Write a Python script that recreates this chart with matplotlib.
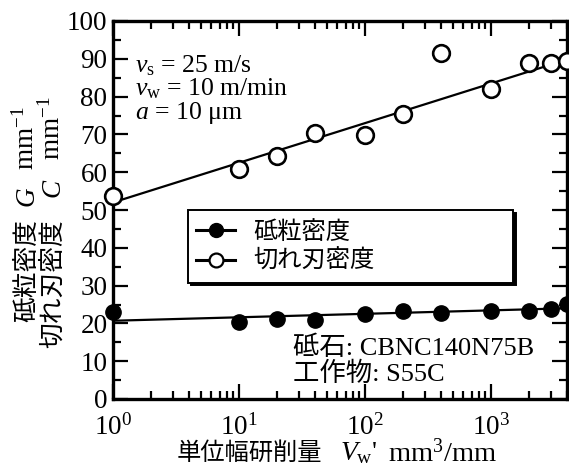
import matplotlib
matplotlib.use("Agg")
import matplotlib.pyplot as plt
from matplotlib.lines import Line2D
from matplotlib.ticker import LogLocator, MultipleLocator, NullFormatter, FixedLocator

plt.rcParams['font.family'] = ['Liberation Serif', 'Noto Sans CJK JP']
plt.rcParams['mathtext.fontset'] = 'custom'
plt.rcParams['mathtext.rm'] = 'Liberation Serif'
plt.rcParams['mathtext.it'] = 'Liberation Serif:italic'
plt.rcParams['mathtext.bf'] = 'Liberation Serif:bold'

# specific stock removal V_w' (mm^3/mm)
removal = [1, 10, 20, 40, 100, 200, 400, 1000, 2000, 3000, 4000]
# grain density G (mm^-1)
grain_density = [23.0, 20.4, 21.1, 20.8, 22.6, 23.2, 22.8, 23.2, 23.2, 23.8, 25.2]
# cutting edge density C (mm^-1)
edge_density = [53.8, 60.8, 64.4, 70.4, 69.9, 75.5, 91.6, 82.0, 89.0, 89.0, 89.3]
# fitted trend lines
fit_x = [1, 4000]
grain_fit = [20.7, 24.0]
edge_fit = [52.0, 89.8]

label_grain = '砥粒密度'
label_edge = '切れ刃密度'
y_ticks = [0, 10, 20, 30, 40, 50, 60, 70, 80, 90, 100]

W, H = 569, 468
fig = plt.figure(figsize=(W / 100, H / 100), dpi=100)
ax = fig.add_axes([113 / W, 1 - 399 / H, (567 - 113) / W, (399 - 21) / H])

ax.plot(fit_x, edge_fit, color='black', lw=1.6, zorder=2)
ax.plot(fit_x, grain_fit, color='black', lw=1.6, zorder=2)
ax.plot(removal, edge_density, 'o', ms=12, mfc='white', mec='black', mew=1.9,
        clip_on=False, zorder=3)
ax.plot(removal, grain_density, 'o', ms=11, mfc='black', mec='black', mew=1.0,
        clip_on=False, zorder=3)

ax.set_xscale('log')
ax.set_xlim(1, 4000)
ax.set_ylim(0, 100)
ax.yaxis.set_major_locator(FixedLocator(y_ticks))
ax.yaxis.set_minor_locator(MultipleLocator(5))
ax.xaxis.set_major_locator(LogLocator(base=10, numticks=10))
ax.xaxis.set_minor_locator(LogLocator(base=10, subs=range(2, 10), numticks=20))
ax.xaxis.set_minor_formatter(NullFormatter())

for s in ax.spines.values():
    s.set_linewidth(2.4)
ax.tick_params(which='both', direction='in', top=True, right=True, width=1.6)
ax.tick_params(which='major', length=11)
ax.tick_params(which='minor', length=6)
ax.tick_params(axis='y', labelsize=19.5, pad=4)
ax.tick_params(axis='x', labelsize=19.5, pad=11)

# legend
h_grain = Line2D([], [], color='black', lw=2.2, marker='o', ms=10,
                 mfc='black', mec='black')
h_edge = Line2D([], [], color='black', lw=2.2, marker='o', ms=10,
                mfc='white', mec='black', mew=1.6)
leg = ax.legend([h_grain, h_edge], [label_grain, label_edge],
                loc='upper left', bbox_to_anchor=(0.165, 0.307, 0.716, 0.193),
                mode='expand', borderaxespad=0, borderpad=0.35,
                handlelength=1.6, handletextpad=0.75, labelspacing=0.15,
                fancybox=False, framealpha=1, edgecolor='black',
                prop={'family': 'Noto Sans CJK JP', 'size': 17.5},
                shadow={'color': 'black', 'alpha': 1})
leg.get_frame().set_linewidth(1.4)

# condition notes
fig.text(135 / W, 1 - 72 / H, r'$v_\mathrm{s}$ = 25 m/s', fontsize=18.5, va='baseline')
fig.text(135 / W, 1 - 95 / H, r'$v_\mathrm{w}$ = 10 m/min', fontsize=18.5, va='baseline')
fig.text(135 / W, 1 - 119 / H, r'$a$ = 10 μm', fontsize=18.5, va='baseline')

fig.text(293 / W, 1 - 355 / H, '砥石: CBNC140N75B', fontsize=19, va='baseline')
fig.text(293 / W, 1 - 381 / H, '工作物: S55C', fontsize=19, va='baseline')

# y-axis label (two rotated lines)
cjk = 'Noto Sans CJK JP'
fig.text(27 / W, 1 - 270 / H, label_grain, rotation=90, ha='center', va='center',
         fontsize=18.5, family=cjk)
fig.text(27 / W, 1 - 196 / H, 'G', rotation=90, ha='center', va='center',
         fontsize=19.5, style='italic')
fig.text(26 / W, 1 - 138 / H, r'mm$^{-1}$', rotation=90, ha='center', va='center',
         fontsize=19.5)
fig.text(53 / W, 1 - 284 / H, label_edge, rotation=90, ha='center', va='center',
         fontsize=18.5, family=cjk)
fig.text(53 / W, 1 - 188 / H, 'C', rotation=90, ha='center', va='center',
         fontsize=19.5, style='italic')
fig.text(52 / W, 1 - 128 / H, r'mm$^{-1}$', rotation=90, ha='center', va='center',
         fontsize=19.5)

# x-axis label
fig.text(249.5 / W, 1 - 453 / H, '単位幅研削量', ha='center', va='center',
         fontsize=17.5, family=cjk)
fig.text(340 / W, 1 - 453 / H, r"$V_\mathrm{w}$'", ha='left', va='center', fontsize=20)
fig.text(388 / W, 1 - 453 / H, r'mm$^3$/mm', ha='left', va='center', fontsize=20.5)

fig.savefig('out.png', dpi=100)
